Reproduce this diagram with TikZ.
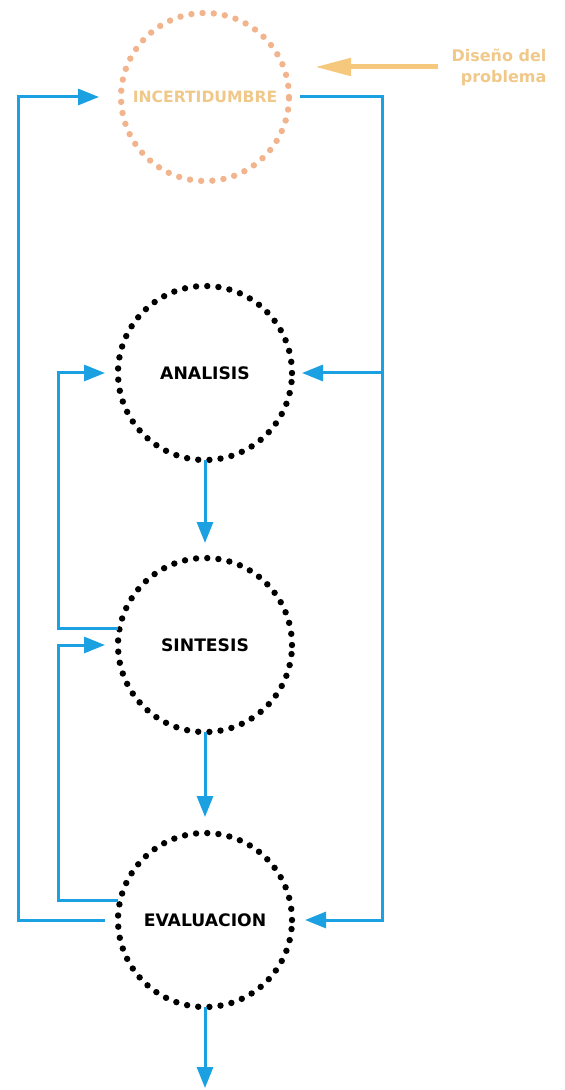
\documentclass[tikz,border=0pt]{standalone}
\usepackage{fontspec}
\setsansfont{DejaVu Sans}
\usepackage{tikz}
\usetikzlibrary{arrows.meta, positioning, calc}
\definecolor{flowblue}{RGB}{27, 161, 226}
\definecolor{dotorange}{RGB}{242, 180, 140}
\definecolor{textorange}{RGB}{240, 200, 138}
\definecolor{arroworange}{RGB}{245, 200, 125}

\begin{document}
\begin{tikzpicture}[
    x=0.5pt, y=-0.5pt,
    node distance=50pt,
    phase/.style={circle, draw, outer sep=0pt, inner sep=0pt, minimum size=87pt, line width=3.2pt, line cap=round, dash pattern=on 0pt off 5.6pt, font=\sffamily\bfseries\fontsize{8.6}{10}\selectfont},
    origin/.style={phase, draw=dotorange, minimum size=84pt, text=textorange, font=\sffamily\bfseries\fontsize{7.8}{9}\selectfont},
    note/.style={align=right, inner sep=2pt, text=textorange, font=\sffamily\bfseries\fontsize{8}{10.5}\selectfont},
    flow/.style={-{Triangle[length=10.5pt, width=8pt]}, color=flowblue, line width=1.5pt},
    input/.style={-{Triangle[length=18pt, width=8.5pt]}, color=arroworange, line width=2.5pt}
]
    \useasboundingbox (0,0) rectangle (565,1090);

    % Main phases
    \node[origin] (incert) at (205,97) {INCERTIDUMBRE};
    \node[phase, below=52.5pt of incert] (analisis) {ANALISIS};
    \node[phase, below=49pt of analisis] (sintesis) {SINTESIS};
    \node[phase, below=50.5pt of sintesis] (evaluacion) {EVALUACION};
    \coordinate[below=40.5pt of evaluacion] (salida);
    \node[note] (diseno) at (499,67) {Diseño del\\problema};

    % Forward flow
    \draw[input, shorten >=13pt] ([xshift=-4.5pt]diseno.west) -- (diseno.west -| incert.east);
    \draw[flow, shorten >=7.5pt] (analisis) -- (sintesis);
    \draw[flow, shorten >=8pt] (sintesis) -- (evaluacion);
    \draw[flow] (evaluacion) -- (salida);

    % Feedback loops
    \draw[flow] ([xshift=5.5pt]incert.east) -| ([xshift=45pt]evaluacion.east) -- ([xshift=6.5pt]evaluacion.east);
    \draw[flow] ([xshift=45pt]analisis.east) -- ([xshift=5pt]analisis.east);
    \draw[flow] ([xshift=-6.5pt]evaluacion.west) -| ([xshift=-51.5pt]incert.west) -- ([xshift=-11pt]incert.west);
    \draw[flow] ([yshift=8.5pt]sintesis.west) -| ([xshift=-30pt]analisis.west) -- ([xshift=-6.5pt]analisis.west);
    \draw[flow] ([yshift=10pt]evaluacion.west) -| ([xshift=-30pt]sintesis.west) -- ([xshift=-6.5pt]sintesis.west);
\end{tikzpicture}
\end{document}
